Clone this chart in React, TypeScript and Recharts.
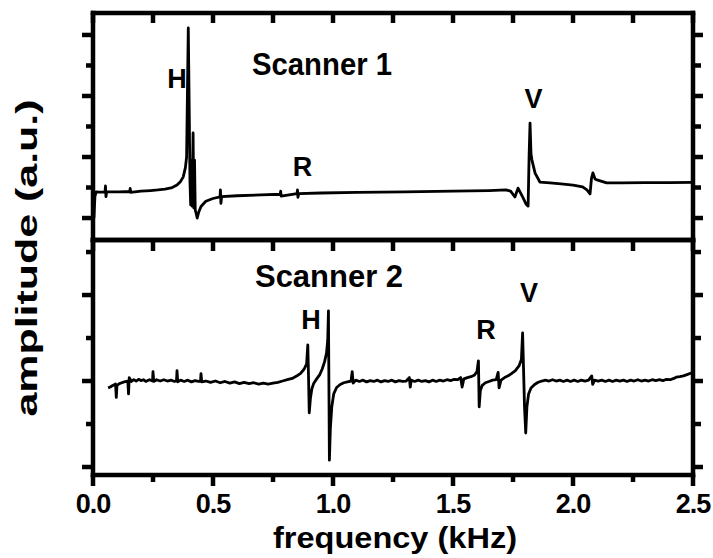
import React from 'react';
import { LineChart, Line, XAxis, YAxis, ReferenceDot } from 'recharts';

// ---------- data ----------
const topFreq = [
  0.0, 0.004, 0.008, 0.013, 0.025, 0.05, 0.052, 0.054, 0.057, 0.08, 0.11, 0.153, 0.155, 0.157,
  0.2, 0.24, 0.27, 0.3, 0.33, 0.35, 0.365, 0.376, 0.385, 0.39, 0.397, 0.401, 0.404, 0.407, 0.41,
  0.413, 0.417, 0.42, 0.423, 0.426, 0.43, 0.434, 0.44, 0.45, 0.47, 0.5, 0.529, 0.531, 0.533,
  0.536, 0.6, 0.7, 0.78, 0.782, 0.784, 0.85, 0.852, 0.854, 0.857, 0.95, 1.1, 1.3, 1.5, 1.65,
  1.72, 1.74, 1.758, 1.771, 1.79, 1.805, 1.813, 1.817, 1.821, 1.825, 1.829, 1.842, 1.862,
  1.904, 1.95, 2.0, 2.04, 2.058, 2.071, 2.077, 2.083, 2.092, 2.1, 2.14, 2.2, 2.3, 2.4, 2.5,
];
const topAmp = [
  0.55, 0.02, 0.7, 0.86, 0.85, 0.86, 1.05, 0.7, 0.86, 0.86, 0.86, 0.87, 0.97, 0.84,
  0.88, 0.9, 0.92, 0.95, 1.0, 1.08, 1.2, 1.35, 1.65, 2.0, 6.23, 3.5, 1.2, 0.43, 1.9,
  0.39, 2.79, 0.33, 1.9, 0.26, 0.15, 0.0, 0.18, 0.38, 0.55, 0.64, 0.69, 0.92, 0.48,
  0.7, 0.73, 0.76, 0.78, 0.88, 0.72, 0.8, 0.92, 0.68, 0.8, 0.82, 0.84, 0.86, 0.88, 0.9,
  0.92, 0.88, 0.69, 0.98, 0.69, 0.45, 0.39, 2.0, 3.11, 2.1, 1.9, 1.47, 1.18,
  1.15, 1.12, 1.08, 1.02, 0.92, 0.79, 1.3, 1.48, 1.28, 1.25, 1.15, 1.15, 1.16, 1.16, 1.17,
];

const botFreq = [
  0.063, 0.072, 0.08, 0.088, 0.094, 0.097, 0.1, 0.11, 0.12, 0.13, 0.145, 0.148, 0.151, 0.16,
  0.17, 0.18, 0.19, 0.2, 0.21, 0.22, 0.235, 0.248, 0.25, 0.253, 0.265, 0.28, 0.295, 0.31,
  0.325, 0.34, 0.348, 0.35, 0.353, 0.365, 0.38, 0.395, 0.41, 0.425, 0.44, 0.448, 0.45, 0.453,
  0.47, 0.49, 0.51, 0.53, 0.55, 0.57, 0.59, 0.61, 0.63, 0.65, 0.67, 0.69, 0.71, 0.73, 0.75,
  0.77, 0.79, 0.81, 0.83, 0.85, 0.865, 0.88, 0.89, 0.895, 0.898, 0.901, 0.906, 0.912, 0.92,
  0.932, 0.945, 0.955, 0.965, 0.973, 0.978, 0.981, 0.985, 0.989, 0.995, 1.003, 1.015, 1.03,
  1.045, 1.06, 1.075, 1.08, 1.084, 1.095, 1.11, 1.125, 1.14, 1.155, 1.17, 1.185, 1.2, 1.215,
  1.23, 1.245, 1.26, 1.275, 1.29, 1.305, 1.318, 1.322, 1.326, 1.34, 1.355, 1.37, 1.385, 1.4,
  1.415, 1.43, 1.445, 1.46, 1.475, 1.49, 1.505, 1.52, 1.532, 1.538, 1.545, 1.56, 1.575, 1.59,
  1.6, 1.606, 1.609, 1.614, 1.622, 1.635, 1.65, 1.665, 1.68, 1.688, 1.692, 1.7, 1.715, 1.73,
  1.745, 1.76, 1.775, 1.785, 1.79, 1.798, 1.803, 1.808, 1.815, 1.825, 1.84, 1.855, 1.87,
  1.885, 1.9, 1.915, 1.93, 1.945, 1.96, 1.975, 1.99, 2.005, 2.02, 2.035, 2.05, 2.065, 2.078,
  2.082, 2.09, 2.105, 2.12, 2.135, 2.15, 2.165, 2.18, 2.195, 2.21, 2.225, 2.24, 2.255, 2.27,
  2.285, 2.3, 2.315, 2.33, 2.345, 2.36, 2.375, 2.39, 2.405, 2.42, 2.43, 2.445, 2.46, 2.475,
  2.49, 2.5,
];
const botAmp = [
  1.84, 1.86, 1.89, 1.91, 1.93, 1.62, 1.9, 1.94, 1.96, 1.98, 2.0, 1.7, 2.08, 1.99,
  2.03, 2.0, 2.04, 2.01, 2.03, 1.99, 2.03, 2.0, 2.22, 1.99, 2.03, 2.0, 2.03, 2.0,
  2.02, 1.99, 2.01, 2.24, 1.98, 2.02, 1.99, 2.02, 1.98, 2.01, 1.99, 2.0, 2.17, 1.98,
  2.0, 1.97, 2.0, 1.96, 1.99, 1.95, 1.98, 1.94, 1.97, 1.94, 1.96, 1.93, 1.95, 1.93, 1.95,
  1.97, 2.0, 2.03, 2.06, 2.12, 2.18, 2.28, 2.4, 2.84, 2.1, 1.26, 1.6, 1.82, 1.95,
  2.05, 2.15, 2.28, 2.45, 2.65, 2.95, 3.63, 0.16, 0.9, 1.4, 1.7, 1.85, 1.92,
  1.96, 1.98, 2.0, 2.22, 1.95, 2.02, 1.99, 2.02, 1.98, 2.01, 1.99, 2.02, 1.98, 2.01,
  1.99, 2.02, 1.98, 2.01, 1.99, 2.0, 2.08, 1.86, 2.02, 1.99, 2.02, 1.99, 2.01, 1.98,
  2.02, 1.99, 2.02, 2.0, 2.03, 2.01, 2.04, 2.03, 2.08, 1.86, 2.05, 2.08, 2.1, 2.14,
  2.22, 2.47, 1.4, 1.78, 1.9, 1.96, 1.99, 2.02, 2.03, 2.2, 1.84, 2.02, 2.08, 2.12,
  2.18, 2.24, 2.35, 2.5, 3.12, 1.4, 0.79, 1.4, 1.7, 1.84, 1.92, 1.97, 2.0,
  2.02, 2.0, 2.03, 2.0, 2.02, 1.99, 2.02, 1.99, 2.02, 1.99, 2.02, 2.0, 2.02, 2.12,
  1.92, 2.02, 2.0, 2.02, 1.99, 2.02, 1.99, 2.02, 2.0, 2.02, 1.99, 2.02, 2.0, 2.03,
  2.0, 2.02, 2.0, 2.03, 2.01, 2.03, 2.01, 2.04, 2.03, 2.06, 2.09, 2.1, 2.12, 2.15,
  2.18, 2.2,
];

const xTicks = [0, 0.25, 0.5, 0.75, 1, 1.25, 1.5, 1.75, 2, 2.25, 2.5];
const xMajorTicks = [0, 0.5, 1, 1.5, 2, 2.5];
const topYTicks = [0, 1, 2, 3, 4, 5, 6];
const topYMajor = [0, 2, 4, 6];
const botYTicks = [0, 1, 2, 3, 4, 5];
const botYMajor = [0, 2, 4];

const topNotes = [
  { text: 'Scanner 1', f: 0.6625, v: 4.69 },
  { text: 'H', f: 0.35, v: 4.26 },
  { text: 'R', f: 0.873, v: 1.38 },
  { text: 'V', f: 1.835, v: 3.61 },
];
const botNotes = [
  { text: 'Scanner 2', f: 0.675, v: 4.19 },
  { text: 'H', f: 0.908, v: 3.21 },
  { text: 'R', f: 1.6375, v: 2.98 },
  { text: 'V', f: 1.817, v: 3.84 },
];

const topData = topFreq.map((f, i) => ({ f, v: topAmp[i] }));
const botData = botFreq.map((f, i) => ({ f, v: botAmp[i] }));

// ---------- styling ----------
const FONT = '"Liberation Sans", Arial, Helvetica, sans-serif';
const W = 713;
const H = 558;
const SW = 4.5;
const FRAME = { stroke: '#000', strokeWidth: SW, strokeLinecap: 'square' as const };

const isIn = (arr: number[], v: number) => arr.some((a) => Math.abs(a - v) < 1e-6);

const makeXTick = (dir: number, majorLen: number, minorLen: number, showLabel: boolean) => (props: any) => {
  const { x, y, payload } = props;
  const major = isIn(xMajorTicks, payload.value);
  const len = major ? majorLen : minorLen;
  return (
    <g>
      <rect x={x - SW / 2} y={dir > 0 ? y : y - len} width={SW} height={len} fill="#000" stroke="none" />
      {showLabel && major && (
        <text x={x} y={y + 38} textAnchor="middle" fontFamily={FONT} fontWeight={700} fontSize={27} letterSpacing={-1} fill="#000" stroke="none">
          {payload.value.toFixed(1)}
        </text>
      )}
    </g>
  );
};

const makeYTick = (dir: number, majors: number[], majorLen: number, minorLen: number) => (props: any) => {
  const { x, y, payload } = props;
  const len = isIn(majors, payload.value) ? majorLen : minorLen;
  return <rect x={dir > 0 ? x : x - len} y={y - SW / 2} width={len} height={SW} fill="#000" stroke="none" />;
};

const XTitle = (props: any) => {
  const vb = props.viewBox || { x: 93, y: 475, width: 600, height: 0 };
  return (
    <text
      x={vb.x + vb.width / 2 + 2}
      y={vb.y + 73}
      textAnchor="middle"
      fontFamily={FONT}
      fontWeight={700}
      fontSize={30}
      textLength={244}
      lengthAdjust="spacingAndGlyphs"
      fill="#000"
      stroke="none"
    >
      frequency (kHz)
    </text>
  );
};

const YTitle = (props: any) => {
  const vb = props.viewBox || { x: 92, y: 13, width: 1, height: 227 };
  const cx = vb.x + vb.width - 56.5;
  const cy = vb.y + 245;
  return (
    <text
      x={cx}
      y={cy}
      transform={`rotate(-90, ${cx}, ${cy})`}
      textAnchor="middle"
      fontFamily={FONT}
      fontWeight={700}
      fontSize={30}
      textLength={317}
      lengthAdjust="spacingAndGlyphs"
      fill="#000"
      stroke="none"
    >
      amplitude (a.u.)
    </text>
  );
};

const noteShape = (text: string, big: number) => (p: any) => {
  const isTitle = text.length > 1;
  return (
    <text
      x={p.cx}
      y={p.cy}
      textAnchor={isTitle ? 'start' : 'middle'}
      fontFamily={FONT}
      fontWeight={700}
      fontSize={isTitle ? 32 : 27}
      {...(isTitle ? { textLength: big, lengthAdjust: 'spacingAndGlyphs' } : {})}
      fill="#000"
    >
      {text}
    </text>
  );
};

const layer: React.CSSProperties = { position: 'absolute', left: 0, top: 0 };

const axisCommon = {
  stroke: '#000',
  strokeWidth: SW,
  allowDataOverflow: true,
  tickLine: false,
  tickSize: 0,
  tickMargin: 0,
  interval: 0 as const,
  axisLine: FRAME,
};

export default function App() {
  return (
    <div style={{ position: 'absolute', left: 0, top: 0, width: W, height: H, background: '#fff' }}>
      {/* Scanner 1 panel */}
      <div style={layer}>
        <LineChart width={W} height={H} data={topData} margin={{ top: 12, right: 19, bottom: H - 241, left: 92 }}>
          <XAxis
            {...axisCommon}
            xAxisId={0}
            dataKey="f"
            type="number"
            domain={[0, 2.5]}
            ticks={xTicks}
            height={1}
            tick={makeXTick(1, 11, 11, false)}
          />
          <XAxis
            {...axisCommon}
            xAxisId="top"
            orientation="top"
            dataKey="f"
            type="number"
            domain={[0, 2.5]}
            ticks={xTicks}
            height={1}
            tick={makeXTick(1, 10, 10, false)}
          />
          <YAxis
            {...axisCommon}
            yAxisId={0}
            type="number"
            domain={[-0.72, 6.72]}
            ticks={topYTicks}
            width={1}
            tick={makeYTick(-1, topYMajor, 11, 7)}
            label={<YTitle />}
          />
          <YAxis
            {...axisCommon}
            yAxisId="right"
            orientation="right"
            type="number"
            domain={[-0.72, 6.72]}
            ticks={topYTicks}
            width={1}
            tick={makeYTick(1, topYMajor, 10, 8)}
          />
          <Line
            type="linear"
            dataKey="v"
            stroke="#000"
            strokeWidth={2.8}
            strokeLinejoin="round"
            dot={false}
            activeDot={false}
            isAnimationActive={false}
          />
          {topNotes.map((n) => (
            <ReferenceDot key={n.text} x={n.f} y={n.v} r={0} ifOverflow="visible" shape={noteShape(n.text, 140)} />
          ))}
        </LineChart>
      </div>

      {/* Scanner 2 panel */}
      <div style={layer}>
        <LineChart width={W} height={H} data={botData} margin={{ top: 239, right: 19, bottom: H - 476, left: 92 }}>
          <XAxis
            {...axisCommon}
            xAxisId={0}
            dataKey="f"
            type="number"
            domain={[0, 2.5]}
            ticks={xTicks}
            height={1}
            tick={makeXTick(1, 11, 7, true)}
            label={<XTitle />}
          />
          <XAxis
            {...axisCommon}
            xAxisId="top"
            orientation="top"
            dataKey="f"
            type="number"
            domain={[0, 2.5]}
            height={1}
            tick={false}
          />
          <YAxis
            {...axisCommon}
            yAxisId={0}
            type="number"
            domain={[-0.186, 5.28]}
            ticks={botYTicks}
            width={1}
            tick={makeYTick(-1, botYMajor, 11, 7)}
          />
          <YAxis
            {...axisCommon}
            yAxisId="right"
            orientation="right"
            type="number"
            domain={[-0.186, 5.28]}
            ticks={botYTicks}
            width={1}
            tick={makeYTick(1, botYMajor, 10, 8)}
          />
          <Line
            type="linear"
            dataKey="v"
            stroke="#000"
            strokeWidth={2.8}
            strokeLinejoin="round"
            dot={false}
            activeDot={false}
            isAnimationActive={false}
          />
          {botNotes.map((n) => (
            <ReferenceDot key={n.text} x={n.f} y={n.v} r={0} ifOverflow="visible" shape={noteShape(n.text, 148)} />
          ))}
        </LineChart>
      </div>
    </div>
  );
}
